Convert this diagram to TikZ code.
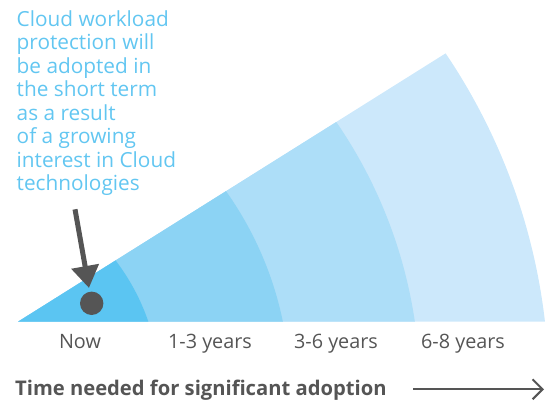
\documentclass[tikz,border=0pt]{standalone}
\usepackage{fontspec}
\setmainfont{Open Sans}
\usetikzlibrary{arrows.meta}
\definecolor{bandA}{HTML}{5BC5F2}
\definecolor{bandB}{HTML}{8CD3F4}
\definecolor{bandC}{HTML}{ADDEF8}
\definecolor{bandD}{HTML}{CCE8FB}
\definecolor{notecol}{HTML}{62C6F1}
\definecolor{darkgray}{HTML}{555555}
\tikzset{
  bandlabel/.style={anchor=base, inner sep=0pt, text=darkgray, font=\fontsize{19.8}{23}\selectfont},
  notetext/.style={anchor=north west, inner sep=0pt, align=left, text=notecol, font=\fontsize{20.8}{23.57}\selectfont},
  titletext/.style={anchor=base west, inner sep=0pt, text=darkgray, font=\fontsize{20.2}{24}\selectfont\bfseries},
  pointer/.style={draw=darkgray, line width=5pt, -{Triangle[width=27pt,length=22pt]}},
  timeline/.style={draw=darkgray, line width=2pt, -{Straight Barb[length=10pt,width=20pt,line width=2pt]}},
}
\begin{document}
\begin{tikzpicture}[x=1pt,y=-1pt]
\useasboundingbox (0,0) rectangle (545,403);
% wedge
\begin{scope}
  \clip (18,321.7) -- (600,-43.5) -- (600,321.7) -- cycle;
  \fill[bandD] (-57,392) circle (606pt);
  \fill[bandC] (-57,392) circle (477pt);
  \fill[bandB] (-57,392) circle (347pt);
  \fill[bandA] (-57,392) circle (217pt);
\end{scope}
% note
\node[notetext] (note) at (16.5,10) {Cloud workload\\protection will\\be adopted in\\the short term\\as a result\\of a growing\\interest in Cloud\\technologies};
% pointer and dot
\coordinate (pstart) at (75,209.3);
\node[circle, fill=darkgray, inner sep=0pt, minimum size=23.4pt] (dot) at (91.7,303.3) {};
\draw[pointer, shorten >=3.7pt] (pstart) -- (dot);
% band labels
\node[bandlabel] (now) at (80,348.3) {Now};
\node[bandlabel] (y13) at (210,348.3) {1-3 years};
\node[bandlabel] (y36) at (336,348.3) {3-6 years};
\node[bandlabel] (y68) at (463,348.3) {6-8 years};
% title and arrow
\node[titletext] (title) at (15,395) {Time needed for significant adoption};
\coordinate (tstart) at (413,389.3);
\coordinate (tend) at (544,389.3);
\draw[timeline] (tstart) -- (tend);
\end{tikzpicture}
\end{document}
